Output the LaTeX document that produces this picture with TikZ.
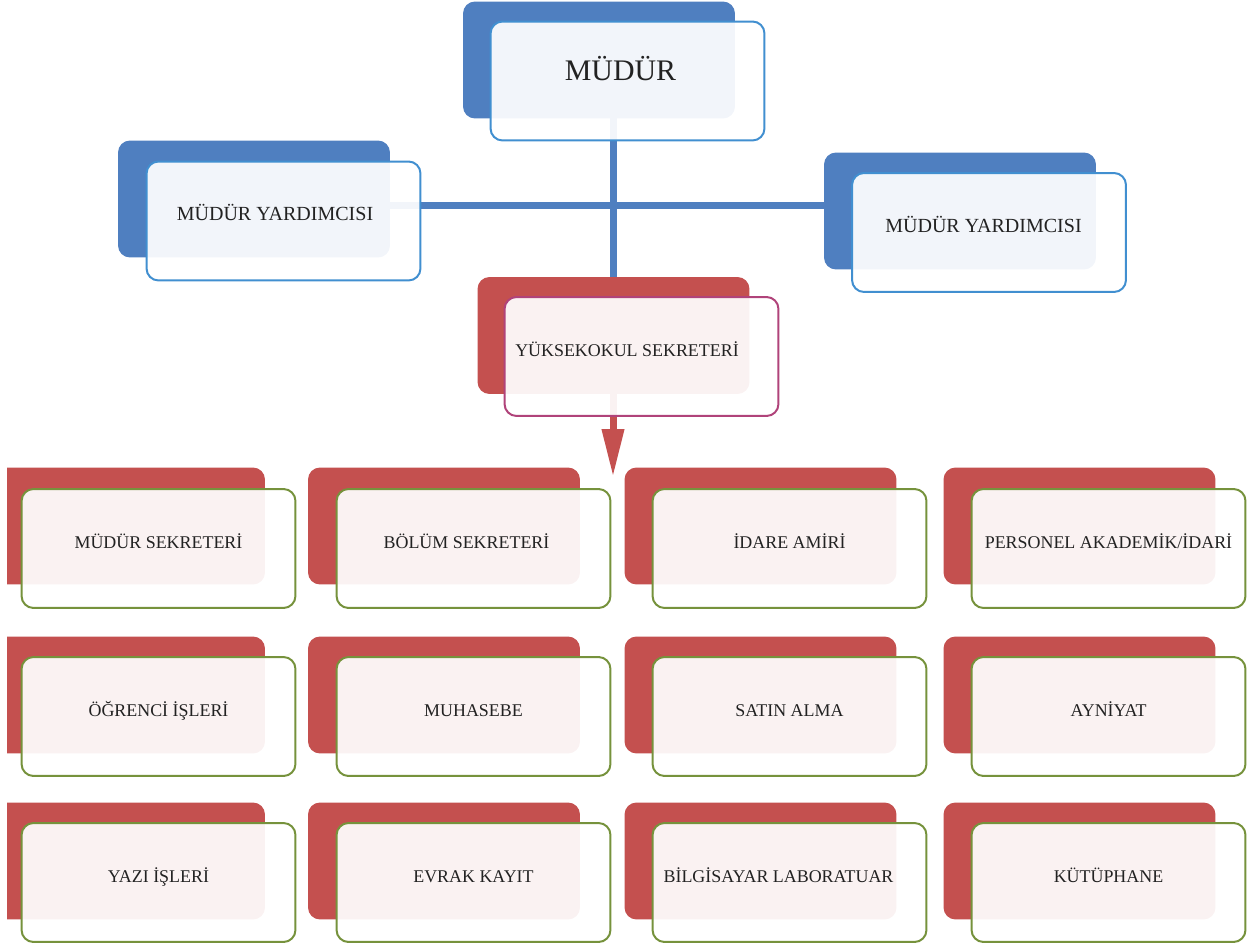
\documentclass[tikz,border=0pt]{standalone}
\usepackage{fontspec}
\setmainfont{Liberation Serif}
\usetikzlibrary{arrows.meta, backgrounds}
\definecolor{topblue}{HTML}{4F7FC0}
\definecolor{lineblue}{HTML}{418FD0}
\definecolor{secred}{HTML}{C4504F}
\definecolor{secline}{HTML}{B0437A}
\definecolor{unitgreen}{HTML}{76923C}
\definecolor{textgray}{HTML}{222222}

\begin{document}
\begin{tikzpicture}[x=0.02cm, y=-0.02cm,
    backbox/.style={fill=#1, rounded corners=0.24cm, minimum width=5.44cm, minimum height=2.34cm, inner sep=0pt},
    unitbox/.style={draw=#1, line width=0.04cm, fill=white, fill opacity=0.93, text opacity=1, text=textgray,
      rounded corners=0.24cm, minimum width=5.48cm, minimum height=2.38cm, inner sep=0pt,
      text height=0.5cm, text depth=0.5cm, font=\fontsize{10.2}{12}\selectfont},
    pullleft/.style={execute at begin node={\hspace*{-#1}}},
    link/.style={draw=#1, line width=0.14cm}]
  \useasboundingbox (0,0) rectangle (1254,945);
  \clip (7,0) rectangle (1254,945);
  \coordinate (hub) at (613, 206);
  \coordinate (tip) at (613, 477);

  % top part
  \node[backbox=topblue] (s1) at (599, 60) {};
  \node[unitbox=lineblue, pullleft=0.28cm, font=\fontsize{17}{20}\selectfont] (n1) at (627.5, 81) {MÜDÜR};
  \node[backbox=topblue] (s2) at (254, 199) {};
  \node[unitbox=lineblue, pullleft=0.34cm, font=\fontsize{11.4}{13}\selectfont] (n2) at (283.5, 221) {MÜDÜR YARDIMCISI};
  \node[backbox=topblue] (s3) at (960, 211) {};
  \node[unitbox=lineblue, pullleft=0.22cm, font=\fontsize{11.4}{13}\selectfont] (n3) at (989, 232.5) {MÜDÜR YARDIMCISI};
  \node[backbox=secred] (s4) at (613.5, 335.5) {};
  \node[unitbox=secline, pullleft=0.58cm] (n4) at (641.5, 356.5) {YÜKSEKOKUL SEKRETERİ};

  % lines go behind the boxes
  \begin{scope}[on background layer]
    \path[link=topblue] (s2.center |- hub) -- (s3.center |- hub);
    \path[link=topblue] (s1.center -| hub) -- (s4.center -| hub);
    \path[link=secred, -{Triangle[width=0.42cm, length=0.96cm]}] (s4.center -| tip) -- (tip);
  \end{scope}

  % first row
  \node[backbox=secred] (s5) at (129, 526) {};
  \node[unitbox=unitgreen] (n5) at (158.5, 548.5) {MÜDÜR SEKRETERİ};
  \node[backbox=secred] (s6) at (444, 526) {};
  \node[unitbox=unitgreen, pullleft=0.28cm] (n6) at (473.5, 548.5) {BÖLÜM SEKRETERİ};
  \node[backbox=secred] (s7) at (760.5, 526) {};
  \node[unitbox=unitgreen] (n7) at (789.5, 548.5) {İDARE AMİRİ};
  \node[backbox=secred] (s8) at (1079.5, 526) {};
  \node[unitbox=unitgreen] (n8) at (1108.5, 548.5) {PERSONEL AKADEMİK/İDARİ};

  % second row
  \node[backbox=secred] (s9) at (129, 695) {};
  \node[unitbox=unitgreen] (n9) at (158.5, 716.5) {ÖĞRENCİ İŞLERİ};
  \node[backbox=secred] (s10) at (444, 695) {};
  \node[unitbox=unitgreen] (n10) at (473.5, 716.5) {MUHASEBE};
  \node[backbox=secred] (s11) at (760.5, 695) {};
  \node[unitbox=unitgreen] (n11) at (789.5, 716.5) {SATIN ALMA};
  \node[backbox=secred] (s12) at (1079.5, 695) {};
  \node[unitbox=unitgreen] (n12) at (1108.5, 716.5) {AYNİYAT};

  % third row
  \node[backbox=secred] (s13) at (129, 861) {};
  \node[unitbox=unitgreen] (n13) at (158.5, 882.5) {YAZI İŞLERİ};
  \node[backbox=secred] (s14) at (444, 861) {};
  \node[unitbox=unitgreen] (n14) at (473.5, 882.5) {EVRAK KAYIT};
  \node[backbox=secred] (s15) at (760.5, 861) {};
  \node[unitbox=unitgreen, pullleft=0.44cm] (n15) at (789.5, 882.5) {BİLGİSAYAR LABORATUAR};
  \node[backbox=secred] (s16) at (1079.5, 861) {};
  \node[unitbox=unitgreen] (n16) at (1108.5, 882.5) {KÜTÜPHANE};
\end{tikzpicture}
\end{document}
